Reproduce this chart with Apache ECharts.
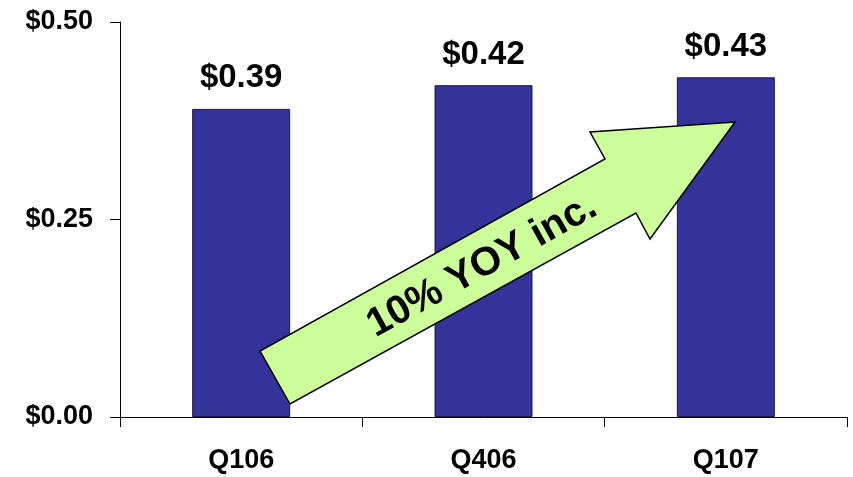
<!DOCTYPE html>
<html>
<head>
<meta charset="utf-8">
<script src="https://cdn.jsdelivr.net/npm/echarts@6/dist/echarts.min.js"></script>
<style>
html,body{margin:0;padding:0;background:#fff;}
#c{width:853px;height:477px;}
</style>
</head>
<body>
<div id="c"></div>
<script>
const categories = ['Q106', 'Q406', 'Q107'];
const values = [0.39, 0.42, 0.43];
const yTicks = [0, 0.25, 0.5];
const arrowText = '10% YOY inc.';

const chart = echarts.init(document.getElementById('c'));
const FONT = '"Liberation Sans", Arial, sans-serif';

const arrowPts = [[290,404],[260,351],[605,159],[590,132],[735,122],[650,239],[636,213]];

chart.setOption({
  animation: false,
  backgroundColor: '#ffffff',
  grid: { left: 120, right: 6, top: 22, bottom: 60, containLabel: false },
  xAxis: {
    type: 'category',
    data: categories,
    boundaryGap: true,
    axisLine: { lineStyle: { color: '#000', width: 1 } },
    axisTick: { show: true, alignWithLabel: false, length: 10, lineStyle: { color: '#000' } },
    axisLabel: { color: '#000', fontFamily: FONT, fontWeight: 'bold', fontSize: 27, margin: 30 },
    splitLine: { show: false }
  },
  yAxis: {
    type: 'value',
    min: yTicks[0],
    max: yTicks[yTicks.length - 1],
    interval: yTicks[1] - yTicks[0],
    axisLine: { show: true, lineStyle: { color: '#000', width: 1 } },
    axisTick: { show: true, length: 10, lineStyle: { color: '#000' } },
    axisLabel: {
      color: '#000', fontFamily: FONT, fontWeight: 'bold', fontSize: 27, margin: 27,
      formatter: v => '$' + v.toFixed(2)
    },
    splitLine: { show: false }
  },
  series: [{
    type: 'bar',
    data: values,
    barWidth: 98,
    itemStyle: { color: '#333399', borderColor: '#1a1a4d', borderWidth: 1 },
    label: {
      show: true, position: 'top', distance: 14,
      color: '#000', fontFamily: FONT, fontWeight: 'bold', fontSize: 33,
      formatter: p => '$' + p.value.toFixed(2)
    }
  }],
  graphic: [
    {
      type: 'polygon',
      shape: { points: arrowPts },
      style: { fill: '#CCFF99', stroke: '#000', lineWidth: 1.5 },
      z: 100
    },
    {
      type: 'text',
      x: 482, y: 266,
      rotation: 29 * Math.PI / 180,
      style: {
        text: arrowText,
        fill: '#000',
        font: 'bold 40px ' + FONT,
        align: 'center',
        verticalAlign: 'middle'
      },
      z: 101
    }
  ]
});
</script>
</body>
</html>
